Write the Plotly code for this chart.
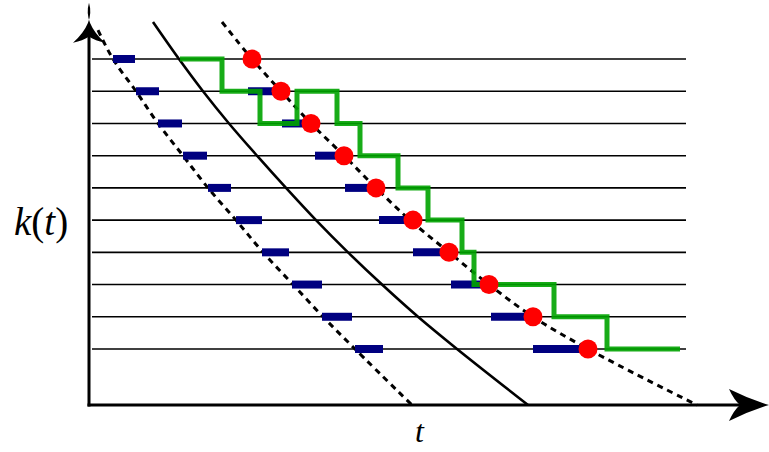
import plotly.graph_objects as go

# ---------------- data ----------------
# t is measured from the origin of the time axis, k is the level index.
levels = [10, 9, 8, 7, 6, 5, 4, 3, 2, 1]

# mean path k(t) (solid) and the two bounding curves (dashed)
solid_t = [64, 90, 114, 140, 168, 197, 227, 259, 293, 329, 368, 439]
solid_k = [11.15, 10, 9, 8, 7, 6, 5, 4, 3, 2, 1, -0.74]

lower_t = [9, 24, 47, 69, 94, 119, 147, 174, 204, 234, 266, 323]
lower_k = [10.9, 10, 9, 8, 7, 6, 5, 4, 3, 2, 1, -0.74]

upper_t = [133, 163, 192, 222, 255, 287, 321, 360, 400, 444, 499, 608]
upper_k = [11.15, 10, 9, 8, 7, 6, 5, 4, 3, 2, 1, -0.74]

# early intervals on each level (near the lower curve)
early_start = [24, 47, 69, 94, 119, 147, 173, 203, 233, 266]
early_end = [46, 70, 93, 118, 142, 173, 200, 233, 263, 294]

# jump events (red) and the late intervals leading up to them
event_t = [163, 192, 222, 255, 287, 324, 360, 400, 444, 499]
late_levels = [9, 8, 7, 6, 5, 4, 3, 2, 1]
late_start = [159, 193, 226, 256, 290, 324, 362, 402, 444]
late_end = [192, 222, 255, 287, 324, 360, 400, 444, 499]

# sample trajectory (green step path)
step_t = [91, 133, 171, 208, 248, 271, 309, 339, 373, 385, 465, 518, 591]
step_k = [10, 9, 8, 9, 8, 7, 6, 5, 4, 3, 2, 1, 1]

# ---------------- geometry ----------------
W, H = 769, 452
PX_PER_K = 32.22          # vertical spacing of the levels in pixels
T0_PX = 89                # pixel column of the k axis
K1_PX = 349               # pixel row of level 1
K_AXIS = -0.74            # level value where the t axis sits
T_LINE = (3, 597)         # extent of the level lines
T_TIP = 680               # tip of the t-axis arrow
K_TIP = 11.75             # tip of the k-axis arrow

x_range = [-T0_PX, W - T0_PX]
y_range = [1 - (H - K1_PX) / PX_PER_K, 1 + K1_PX / PX_PER_K]


def dk(px):
    return px / PX_PER_K


fig = go.Figure()

# level lines
lx, ly = [], []
for k in levels:
    lx += [T_LINE[0], T_LINE[1], None]
    ly += [k, k, None]
fig.add_trace(go.Scatter(x=lx, y=ly, mode="lines",
                         line=dict(color="black", width=1.6), hoverinfo="skip"))

# bounding curves and mean curve
fig.add_trace(go.Scatter(x=lower_t, y=lower_k, mode="lines",
                         line=dict(color="black", width=3, dash="6px,5px", shape="spline")))
fig.add_trace(go.Scatter(x=upper_t, y=upper_k, mode="lines",
                         line=dict(color="black", width=3, dash="6px,5px", shape="spline")))
fig.add_trace(go.Scatter(x=solid_t, y=solid_k, mode="lines",
                         line=dict(color="black", width=2.6, shape="spline")))

# interval bars
bx, by = [], []
for k, a, b in zip(levels, early_start, early_end):
    bx += [a, b, None]
    by += [k, k, None]
for k, a, b in zip(late_levels, late_start, late_end):
    bx += [a, b, None]
    by += [k, k, None]
fig.add_trace(go.Scatter(x=bx, y=by, mode="lines",
                         line=dict(color="#000080", width=8)))

# trajectory
fig.add_trace(go.Scatter(x=step_t, y=step_k, mode="lines", opacity=0.9,
                         line=dict(color="#00a400", width=5, shape="hv")))

# jump events
fig.add_trace(go.Scatter(x=event_t, y=levels, mode="markers",
                         marker=dict(color="#ff0000", size=19, line=dict(width=0))))

# axes with arrowheads
ax_len, ax_half, ax_notch = 40, 16, 11
fig.add_shape(type="line", x0=-1.5, x1=T_TIP - ax_len + ax_notch, y0=K_AXIS, y1=K_AXIS,
              line=dict(color="black", width=3))
fig.add_shape(type="line", x0=0, x1=0, y0=K_AXIS - dk(1.5), y1=K_TIP - dk(ax_len - ax_notch),
              line=dict(color="black", width=3))

h_path = (f"M {T_TIP} {K_AXIS} "
          f"Q {T_TIP - 20} {K_AXIS + dk(6)} {T_TIP - ax_len} {K_AXIS + dk(ax_half)} "
          f"Q {T_TIP - ax_len + 5} {K_AXIS + dk(5)} {T_TIP - ax_len + ax_notch} {K_AXIS} "
          f"Q {T_TIP - ax_len + 5} {K_AXIS - dk(5)} {T_TIP - ax_len} {K_AXIS - dk(ax_half)} "
          f"Q {T_TIP - 20} {K_AXIS - dk(6)} {T_TIP} {K_AXIS} Z")
v_path = (f"M 0 {K_TIP} "
          f"Q 6 {K_TIP - dk(20)} {-ax_half} {K_TIP - dk(ax_len)} "
          f"Q 5 {K_TIP - dk(ax_len - 5)} 0 {K_TIP - dk(ax_len - ax_notch)} "
          f"Q -5 {K_TIP - dk(ax_len - 5)} {ax_half} {K_TIP - dk(ax_len)} "
          f"Q -6 {K_TIP - dk(20)} 0 {K_TIP} Z")
for p in (h_path, v_path):
    fig.add_shape(type="path", path=p, fillcolor="black", line=dict(width=0))

# axis labels
fig.add_annotation(x=-48, y=4.94, text="<i>k</i>(<i>t</i>)", showarrow=False,
                   font=dict(family="Liberation Serif", size=39, color="black"),
                   xanchor="center", yanchor="middle")
fig.add_annotation(x=331, y=-1.56, text="<i>t</i>", showarrow=False,
                   font=dict(family="Liberation Serif", size=32, color="black"),
                   xanchor="center", yanchor="middle")

fig.update_layout(
    width=W, height=H, margin=dict(l=0, r=0, t=0, b=0),
    paper_bgcolor="white", plot_bgcolor="white", showlegend=False,
    xaxis=dict(range=x_range, visible=False, fixedrange=True),
    yaxis=dict(range=y_range, visible=False, fixedrange=True),
)

fig.write_html("out.html")
